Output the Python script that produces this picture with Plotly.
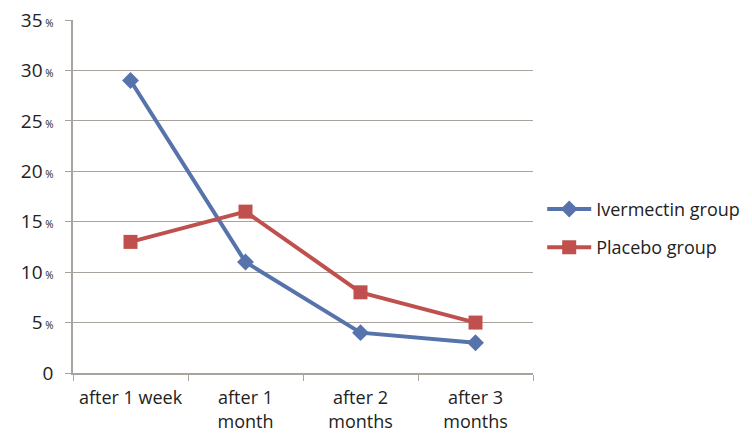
import plotly.graph_objects as go

categories = ["after 1 week", "after 1<br>month", "after 2<br>months", "after 3<br>months"]
ivermectin = [29, 11, 4, 3]
placebo = [13, 16, 8, 5]
y_ticks = [0, 5, 10, 15, 20, 25, 30, 35]
y_ticktext = ["0"] + [f"{v}<span style='font-size:10px'> %</span>" for v in y_ticks[1:]]

axis_col = "#a8a39c"
fig = go.Figure()
fig.add_trace(go.Scatter(x=categories, y=ivermectin, name="Ivermectin group", mode="lines+markers",
                         legendgroup="a",
                         line=dict(color="#5773ac", width=4),
                         marker=dict(symbol="diamond", size=13, color="#5773ac")))
fig.add_trace(go.Scatter(x=categories, y=placebo, name="Placebo group", mode="lines+markers",
                         legendgroup="b",
                         line=dict(color="#c0504d", width=4),
                         marker=dict(symbol="square", size=14, color="#c0504d")))

fig.update_layout(
    width=744, height=430,
    margin=dict(l=65, r=219, t=12, b=65, autoexpand=False),
    paper_bgcolor="white", plot_bgcolor="white",
    font=dict(family="Open Sans, Liberation Sans, sans-serif", size=18, color="#222222"),
    legend=dict(x=1.02, y=0.41, xanchor="left", yanchor="middle", font=dict(size=18),
                tracegroupgap=12, itemwidth=44, bgcolor="rgba(0,0,0,0)"),
    showlegend=True,
)
fig.update_xaxes(type="category", range=[-0.5, 3.5], tickson="boundaries", ticks="outside",
                 ticklen=6, tickcolor=axis_col, showline=True, linecolor=axis_col, linewidth=1.5,
                 showgrid=False, tickfont=dict(size=18), automargin=False, ticklabelstandoff=8)
fig.update_yaxes(range=[0, 35], tickvals=y_ticks, ticktext=y_ticktext, ticks="outside",
                 ticklen=6, tickcolor=axis_col, showline=True, linecolor=axis_col, linewidth=1.5,
                 showgrid=True, gridcolor=axis_col, gridwidth=1, zeroline=False,
                 tickfont=dict(size=19), automargin=False, ticklabelstandoff=8,
                 ticklabeloverflow="allow")
fig.write_html("out.html")
